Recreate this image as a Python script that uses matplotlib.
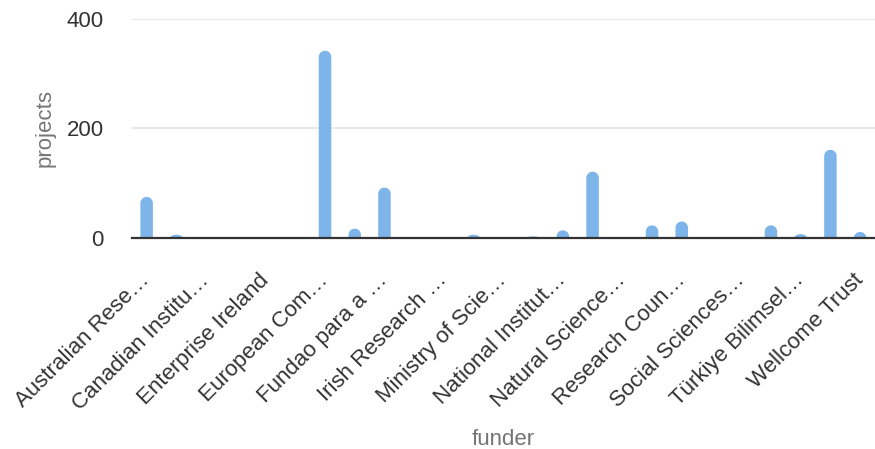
import matplotlib
matplotlib.use("Agg")
import matplotlib.pyplot as plt
from matplotlib.patches import Polygon
import numpy as np

plt.rcParams['font.family'] = ['Liberation Sans', 'DejaVu Sans']

# funders (alphabetical); every other one carries a tick label
funders = [
    "Australian Research Council", "Austrian Science Fund",
    "Canadian Institutes of Health Research", "Danish National Research Foundation",
    "Enterprise Ireland", "Environmental Protection Agency",
    "European Commission", "European Research Council",
    "Fundao para a Ciencia e a Tecnologia", "German Research Foundation",
    "Irish Research Council", "Japan Society for the Promotion of Science",
    "Ministry of Science and Technology", "National Health and Medical Research Council",
    "National Institutes of Health", "National Science Foundation",
    "Natural Sciences and Engineering Research Council", "Netherlands Organisation for Scientific Research",
    "Research Council of Norway", "Russian Science Foundation",
    "Social Sciences and Humanities Research Council", "Swiss National Science Foundation",
    "Türkiye Bilimsel ve Teknolojik Araştırma Kurumu", "UK Research and Innovation",
    "Wellcome Trust",
]
projects = [75, 6, 0, 0, 0, 0, 342, 17, 92, 0, 0, 6, 0, 3, 14, 121, 0, 23, 30, 0, 0, 23, 7, 161, 11]
tick_labels = [
    "Australian Rese…", "Canadian Institu…", "Enterprise Ireland", "European Com…",
    "Fundao para a …", "Irish Research …", "Ministry of Scie…", "National Institut…",
    "Natural Science…", "Research Coun…", "Social Sciences…", "Türkiye Bilimsel…",
    "Wellcome Trust",
]
y_ticks = [0, 200, 400]
bar_color = '#7db4ea'

fig = plt.figure(figsize=(8.75, 4.49), dpi=100)
ax = fig.add_axes([0.1506, 0.470, 0.8494, 0.4877])

x = np.arange(len(funders))
ax.set_xlim(-0.5, len(funders) - 0.5)
ax.set_ylim(0, 400)
bars = ax.bar(x, projects, width=0.42, color=bar_color, zorder=3)

# swap each bar for one with a rounded top (circle in pixels)
aspect = (ax.bbox.width / len(funders)) / (ax.bbox.height / 400)
t = np.linspace(0, np.pi, 30)
for rect in bars:
    x0, w, h = rect.get_x(), rect.get_width(), rect.get_height()
    if h <= 0:
        continue
    rect.set_visible(False)
    r = w / 2
    cap = min(r * aspect, h)
    xc = x0 + r
    arc = np.column_stack([xc + r * np.cos(t), h - cap + cap * np.sin(t)])
    verts = np.vstack([[x0, 0], [x0 + w, 0], arc, [x0, 0]])
    ax.add_patch(Polygon(verts, closed=True, fc=bar_color, ec='none', zorder=3))

ax.set_yticks(y_ticks)
ax.set_xticks(x[::2])
ax.set_xticklabels(tick_labels, rotation=45, ha='right', va='center', rotation_mode='anchor')
ax.tick_params(axis='both', length=0, labelsize=16, labelcolor='#333333')
ax.tick_params(axis='y', pad=20)
ax.tick_params(axis='x', pad=28)

ax.grid(axis='y', color='#e4e4e4', linewidth=1.2, zorder=0)
for s in ['top', 'right', 'left']:
    ax.spines[s].set_visible(False)
ax.spines['bottom'].set_color('#333333')
ax.spines['bottom'].set_linewidth(1.6)
ax.spines['bottom'].set_zorder(4)

ax.set_ylabel('projects', fontsize=16, color='#757575', labelpad=8)
ax.set_xlabel('funder', fontsize=16, color='#757575', labelpad=11)

fig.savefig('out.png', dpi=100)
